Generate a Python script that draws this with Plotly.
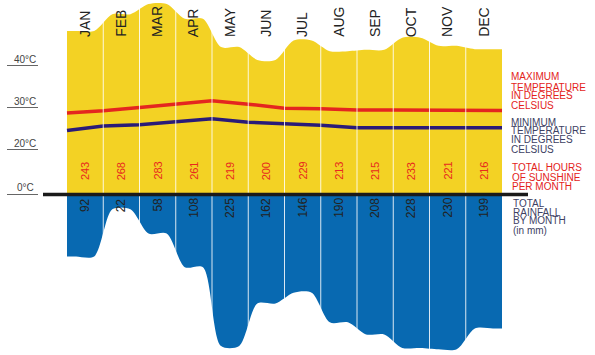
import plotly.graph_objects as go

# ---------------- data ----------------
months = ["JAN", "FEB", "MAR", "APR", "MAY", "JUN", "JUL", "AUG", "SEP", "OCT", "NOV", "DEC"]
sunshine_hours = [243, 268, 283, 261, 219, 200, 229, 213, 215, 233, 221, 216]
rainfall_mm = [92, 22, 58, 108, 225, 162, 146, 190, 208, 228, 230, 199]
temp_max = [28.7, 29.2, 30.0, 30.8, 31.6, 30.8, 29.8, 29.7, 29.4, 29.4, 29.4, 29.3]
temp_min = [24.5, 25.6, 25.9, 26.5, 27.3, 26.5, 26.2, 25.8, 25.2, 25.2, 25.2, 25.2]
temp_tick_values = [40, 30, 20]
temp_tick_labels = ["40°C", "30°C", "20°C"]
zero_label = "0°C"
legend_max = ["MAXIMUM", "TEMPERATURE", "IN DEGREES", "CELSIUS"]
legend_min = ["MINIMUM", "TEMPERATURE", "IN DEGREES", "CELSIUS"]
legend_sun = ["TOTAL HOURS", "OF SUNSHINE", "PER MONTH"]
legend_rain = ["TOTAL", "RAINFALL", "BY MONTH", "(in mm)"]

# ---------------- style ----------------
W, H = 595, 355
FONT = "Liberation Sans, Arial, Helvetica, sans-serif"
YELLOW = "#f3d224"
BLUE = "#0869b1"
RED = "#e4261f"
INDIGO = "#2a1b78"
RED_TXT = "#e3231b"
SLATE_TXT = "#3d4163"

col_left_px, col_w_px = 67, 36.25
zero_px, unit_px = 194.5, 0.673        # hours / mm axis
t_ref, t_ref_px, deg_px = 30, 107.5, 4.2  # temperature axis


def py(p):
    return 1 - p / H


def pxp(p):
    return p / W


def plateau(vals):
    xs, ys = [0], [vals[0]]
    for i, v in enumerate(vals):
        xs += [i + 0.25, i + 0.75]
        ys += [v, v]
    xs.append(len(vals))
    ys.append(vals[-1])
    return xs, ys


n = len(months)
sx, sy = plateau(sunshine_hours)
rx, ry = plateau([-r for r in rainfall_mm])
tx = list(range(n)) + [n]

fig = go.Figure()
fig.add_trace(go.Scatter(x=sx, y=sy, mode="lines", fill="tozeroy", fillcolor=YELLOW,
                         line=dict(color=YELLOW, width=0, shape="spline", smoothing=0.8),
                         hoverinfo="skip"))
fig.add_trace(go.Scatter(x=rx, y=ry, mode="lines", fill="tozeroy", fillcolor=BLUE,
                         line=dict(color=BLUE, width=0, shape="spline", smoothing=0.8),
                         hoverinfo="skip"))
fig.add_trace(go.Scatter(x=tx, y=temp_max + [temp_max[-1]], mode="lines", yaxis="y2",
                         line=dict(color=RED, width=3.5), hoverinfo="skip"))
fig.add_trace(go.Scatter(x=tx, y=temp_min + [temp_min[-1]], mode="lines", yaxis="y2",
                         line=dict(color=INDIGO, width=3.5), hoverinfo="skip"))

shapes = []
# column separators
for i in range(1, n):
    shapes.append(dict(type="line", xref="x", yref="paper", x0=i, x1=i, y0=0, y1=1,
                       line=dict(color="rgba(255,255,255,0.85)", width=1), layer="above"))
# baseline
shapes.append(dict(type="line", xref="paper", yref="y", x0=pxp(43), x1=pxp(528), y0=0, y1=0,
                   line=dict(color="#1a1a1a", width=3.5), layer="above"))
# temperature tick underlines
for v in temp_tick_values:
    shapes.append(dict(type="line", xref="paper", yref="y2", x0=pxp(7), x1=pxp(38), y0=v, y1=v,
                       line=dict(color="#666", width=1)))
shapes.append(dict(type="line", xref="paper", yref="y", x0=pxp(7), x1=pxp(38), y0=0, y1=0,
                   line=dict(color="#666", width=1)))

ann = []
for i, m in enumerate(months):
    ann.append(dict(x=i + 0.5, xref="x", y=py(38), yref="paper", text=m, textangle=-90,
                    xanchor="center", yanchor="bottom", showarrow=False, borderpad=0,
                    font=dict(family=FONT, size=14, color="#222")))
for i, h in enumerate(sunshine_hours):
    ann.append(dict(x=i + 0.5, xref="x", y=py(181), yref="paper", text=str(h), textangle=-90,
                    xanchor="center", yanchor="bottom", showarrow=False, borderpad=0,
                    font=dict(family=FONT, size=11, color="#e8291e")))
for i, r in enumerate(rainfall_mm):
    ann.append(dict(x=i + 0.5, xref="x", y=py(197), yref="paper", text=str(r), textangle=-90,
                    xanchor="center", yanchor="top", showarrow=False, borderpad=0,
                    font=dict(family=FONT, size=12, color="#222")))
for v, lab in zip(temp_tick_values, temp_tick_labels):
    ann.append(dict(x=pxp(25), xref="paper", y=v, yref="y2", text=lab, xanchor="center",
                    yanchor="bottom", showarrow=False, borderpad=0, yshift=0,
                    font=dict(family=FONT, size=10, color="#444")))
ann.append(dict(x=pxp(25), xref="paper", y=0, yref="y", text=zero_label, xanchor="center",
                yanchor="bottom", showarrow=False, borderpad=0, yshift=1,
                font=dict(family=FONT, size=10, color="#444")))


def legend_block(lines, centers, x, color):
    for t, c in zip(lines, centers):
        ann.append(dict(x=pxp(x), xref="paper", y=py(c), yref="paper", text=t,
                        xanchor="left", yanchor="middle", showarrow=False, borderpad=0,
                        font=dict(family=FONT, size=10, color=color)))


legend_block(legend_max, [77, 87, 96, 105], 510, RED_TXT)
legend_block(legend_min, [122, 131, 140, 149], 510, SLATE_TXT)
legend_block(legend_sun, [167, 177, 186], 511, RED_TXT)
legend_block(legend_rain, [203, 212, 221, 230], 512, SLATE_TXT)

fig.update_layout(
    width=W, height=H, margin=dict(l=0, r=0, t=0, b=0),
    paper_bgcolor="white", plot_bgcolor="white", showlegend=False,
    xaxis=dict(range=[-col_left_px / col_w_px, (W - col_left_px) / col_w_px], visible=False,
               fixedrange=True),
    yaxis=dict(range=[-(H - zero_px) / unit_px, zero_px / unit_px], visible=False, fixedrange=True),
    yaxis2=dict(range=[t_ref - (H - t_ref_px) / deg_px, t_ref + t_ref_px / deg_px],
                overlaying="y", visible=False, fixedrange=True),
    shapes=shapes, annotations=ann,
)

fig.write_html("out.html", config={"displayModeBar": False},
               post_script="document.body.style.margin='0';document.body.style.overflow='hidden';")
